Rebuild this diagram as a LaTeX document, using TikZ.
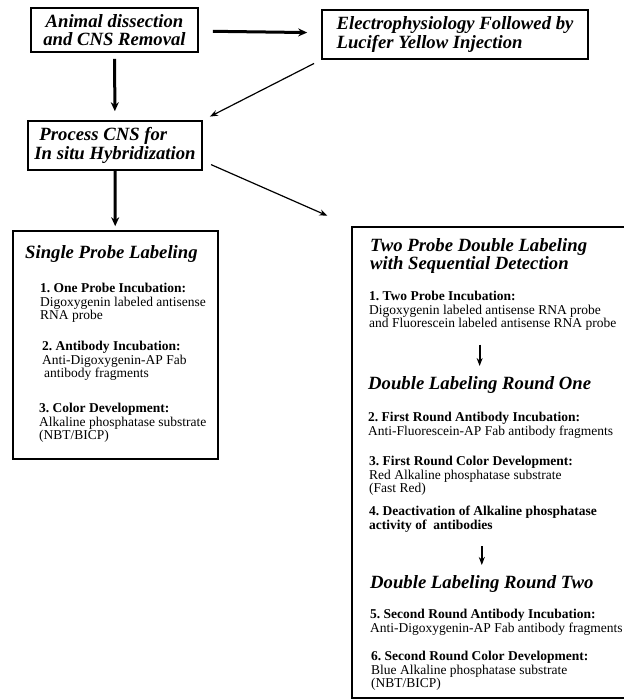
\documentclass[tikz,border=0pt]{standalone}
\usepackage{fontspec}
\setmainfont{Liberation Serif}
\usetikzlibrary{arrows.meta}
\frenchspacing

\begin{document}
\begin{tikzpicture}[x=1pt, y=-1pt,
    box/.style={draw, line width=1.6pt, inner sep=0pt},
    head/.style={font=\fontsize{18.7}{18.5}\selectfont\bfseries\itshape},
    heading/.style={head, anchor=north west, inner sep=0pt, align=left},
    entry/.style={anchor=north west, inner sep=0pt, align=left, font=\fontsize{13.5}{13.5}\selectfont},
    thickarrow/.style={-{Stealth[length=9pt,width=8pt]}, line width=3pt},
    thinarrow/.style={-{Stealth[length=8pt,width=6pt]}, line width=1.2pt}]

    \useasboundingbox (0,0) rectangle (624,699);

    % Top boxes
    \node[box, head, align=center, minimum width=167pt, minimum height=44pt] (dissect) at (114.5,30) {Animal dissection\\and CNS Removal};
    \node[box, head, align=left, minimum width=266pt, minimum height=49pt] (ephys) at (455,34.5) {Electrophysiology Followed by\\Lucifer Yellow Injection};
    \node[box, head, align=left, minimum width=174pt, minimum height=49pt] (process) at (115,145.5) {\hspace{5pt}Process CNS for\\In situ Hybridization};

    % Labeling boxes
    \node[box, minimum width=205pt, minimum height=228pt] (single) at (115.5,345) {};
    \node[box, minimum width=288pt, minimum height=471pt] (double) at (496,462.5) {};

    % Single probe
    \node[heading] (sptitle) at (25,245) {Single Probe Labeling};
    \node[entry] (sp1) at (40,283) {\textbf{1. One Probe Incubation:}\\Digoxygenin labeled antisense\\RNA probe};
    \node[entry] (sp2) at (42,341) {\textbf{2. Antibody Incubation:}\\Anti-Digoxygenin-AP Fab\\\hspace{2pt}antibody fragments};
    \node[entry] (sp3) at (39,403) {\textbf{3. Color Development:}\\Alkaline phosphatase substrate\\(NBT/BICP)};

    % Two probe
    \node[heading] (dptitle) at (370,238) {Two Probe Double Labeling\\with Sequential Detection};
    \node[entry] (dp1) at (369,291) {\textbf{1. Two Probe Incubation:}\\Digoxygenin labeled antisense RNA probe\\and Fluorescein labeled antisense RNA probe};
    \node[heading] (round1) at (368,376) {Double Labeling Round One};
    \node[entry] (dp2) at (368,412) {\textbf{2. First Round Antibody Incubation:}\\Anti-Fluorescein-AP Fab antibody fragments};
    \node[entry] (dp3) at (369,456) {\textbf{3. First Round Color Development:}\\Red Alkaline phosphatase substrate\\(Fast Red)};
    \node[entry] (dp4) at (369,506) {\textbf{4. Deactivation of Alkaline phosphatase}\\\textbf{activity of\ \ antibodies}};
    \node[heading] (round2) at (370,575) {Double Labeling Round Two};
    \node[entry] (dp5) at (370,609) {\textbf{5. Second Round Antibody Incubation:}\\Anti-Digoxygenin-AP Fab antibody fragments};
    \node[entry] (dp6) at (371,651) {\textbf{6. Second Round Color Development:}\\Blue Alkaline phosphatase substrate\\(NBT/BICP)};

    % Arrows
    \draw[thickarrow, shorten <=14pt, shorten >=14pt] (dissect) -- (ephys);
    \draw[thickarrow, shorten <=6pt, shorten >=9pt] (dissect) -- (process);
    \draw[thinarrow, shorten <=8pt, shorten >=8pt] (ephys.south west) -- (process.north east);
    \draw[thinarrow, shorten <=9pt, shorten >=26pt] (process.-10) -- (double.north west);
    \draw[thickarrow, shorten >=4pt] (process) -- (single);
    \draw[thinarrow, line width=2pt, shorten <=14pt, shorten >=10pt] (round1.north |- dp1.south) -- (round1.north);
    \draw[thinarrow, line width=2pt, shorten <=14pt, shorten >=10pt] (round2.north |- dp4.south) -- (round2.north);
\end{tikzpicture}
\end{document}
